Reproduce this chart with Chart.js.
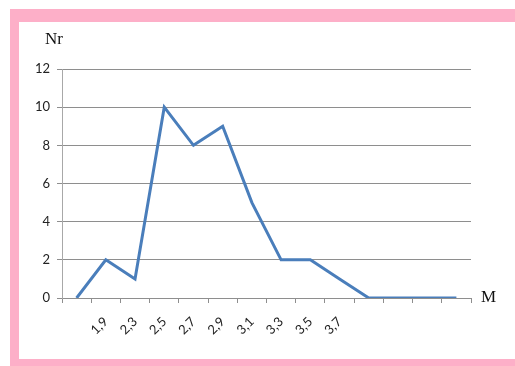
<!DOCTYPE html>
<html lang="en">
<head>
  <meta charset="UTF-8" />
  <title>Nr vs M</title>
  <script src="https://cdn.jsdelivr.net/npm/chart.js"></script>
  <style>
    html, body { margin: 0; padding: 0; background: #fff; overflow: hidden; }
    .frame {
      position: absolute; left: 10px; top: 9px;
      width: 600px; height: 337px;
      border-left: 9px solid #fdafc8;
      border-top: 13px solid #fdafc8;
      border-bottom: 10px solid #fdafc8;
    }
    #chart { position: absolute; left: 0; top: 0; }
  </style>
</head>
<body>
  <div class="frame"></div>
  <canvas id="chart" width="515" height="366"></canvas>

  <script>
    // categories (only some carry a printed label in the original)
    const categories = ['', '1,9', '2,3', '2,5', '2,7', '2,9', '3,1', '3,3', '3,5', '3,7', '', '', '', ''];
    const nrValues = [0, 2, 1, 10, 8, 9, 5, 2, 2, 1, 0, 0, 0, 0];
    const yTicks = [0, 2, 4, 6, 8, 10, 12];

    const gridColor = '#8e8e8e';
    const tickFont = { family: 'Lato', size: 13 };

    // axis titles: "Nr" above the y axis, "M" right of the x axis
    const axisTitles = {
      id: 'axisTitles',
      afterDraw(chart) {
        const { ctx, chartArea } = chart;
        ctx.save();
        ctx.fillStyle = '#111';
        ctx.font = '17px "Liberation Serif"';
        ctx.textAlign = 'center';
        ctx.textBaseline = 'alphabetic';
        ctx.fillText('Nr', chartArea.left - 8, 44);
        ctx.textAlign = 'left';
        ctx.textBaseline = 'middle';
        ctx.fillText('M', chartArea.right + 10, chartArea.bottom);
        ctx.restore();
      }
    };

    new Chart(document.getElementById('chart').getContext('2d'), {
      type: 'line',
      data: {
        labels: categories,
        datasets: [{
          data: nrValues,
          borderColor: '#4a7ebb',
          borderWidth: 3,
          pointRadius: 0,
          tension: 0,
          fill: false
        }]
      },
      options: {
        responsive: false,
        animation: false,
        layout: { padding: { top: 69, right: 44, left: 0, bottom: 0 } },
        plugins: { legend: { display: false }, tooltip: { enabled: false } },
        scales: {
          x: {
            offset: true,
            afterFit(scale) { scale.height = 68; },
            grid: {
              offset: true,
              drawOnChartArea: false,
              tickLength: 5,
              color: gridColor
            },
            border: { color: gridColor },
            ticks: {
              autoSkip: false,
              maxRotation: 45,
              minRotation: 45,
              padding: 11,
              color: '#222',
              font: { family: 'Lato', size: 13 }
            }
          },
          y: {
            min: 0,
            max: 12,
            afterFit(scale) { scale.width = 62; },
            afterBuildTicks(scale) { scale.ticks = yTicks.map(v => ({ value: v })); },
            grid: { color: gridColor, tickLength: 5 },
            border: { color: '#a8a8a8' },
            ticks: { padding: 7, color: '#222', font: tickFont }
          }
        }
      },
      plugins: [axisTitles]
    });
  </script>
</body>
</html>
